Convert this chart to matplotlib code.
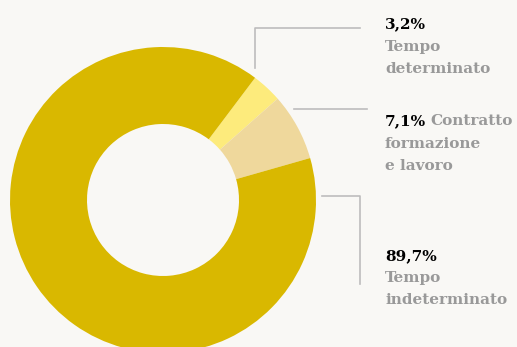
import matplotlib.pyplot as plt

# dati
valori = [3.2, 7.1, 89.7]
percentuali = ["3,2%", "7,1%", "89,7%"]
etichette = [["Tempo", "determinato"],
             ["Contratto", "formazione", "e lavoro"],
             ["Tempo", "indeterminato"]]
colori = ["#FDEB7C", "#EFD89C", "#D9B800"]

sfondo = "#F9F8F5"
grigio = "#999999"
linea = "#BDBDBD"
H = 347

fig = plt.figure(figsize=(5.17, 3.47), dpi=100, facecolor=sfondo)
ax = fig.add_axes([0, 0, 1, 1])
ax.set_facecolor(sfondo)

ax.pie(valori, colors=colori, startangle=53, counterclock=False,
       center=(163, H - 200), radius=153,
       wedgeprops=dict(width=77, linewidth=0))

ax.set_xlim(0, 517)
ax.set_ylim(0, H)
ax.set_aspect("equal")
ax.axis("off")

# linee di richiamo (in pixel dall'alto)
ax.plot([254.5, 254.5, 360], [H - 68, H - 27.5, H - 27.5], color=linea, lw=1.2)
ax.plot([294, 367], [H - 108.5, H - 108.5], color=linea, lw=1.2)
ax.plot([322, 360, 360], [H - 196, H - 196, H - 284], color=linea, lw=1.2)

font = dict(family="DejaVu Serif", fontweight="bold", fontsize=11)
passo = 22.5

# 3,2%
ax.text(385, H - 28, percentuali[0], color="black", va="baseline", **font)
for i, r in enumerate(etichette[0]):
    ax.text(385, H - 50.5 - i * passo, r, color=grigio, va="baseline", **font)

# 7,1% Contratto formazione e lavoro
t = ax.text(385, H - 125, percentuali[1], color="black", va="baseline", **font)
ax.annotate(etichette[1][0], xy=(1, 0), xycoords=t, xytext=(3, 0),
            textcoords="offset points", va="bottom", color=grigio, **font)
for i, r in enumerate(etichette[1][1:]):
    ax.text(385, H - 147.5 - i * passo, r, color=grigio, va="baseline", **font)

# 89,7%
ax.text(385, H - 260.5, percentuali[2], color="black", va="baseline", **font)
for i, r in enumerate(etichette[2]):
    ax.text(385, H - 282 - i * passo, r, color=grigio, va="baseline", **font)

fig.savefig("out.png", dpi=100, facecolor=sfondo)
